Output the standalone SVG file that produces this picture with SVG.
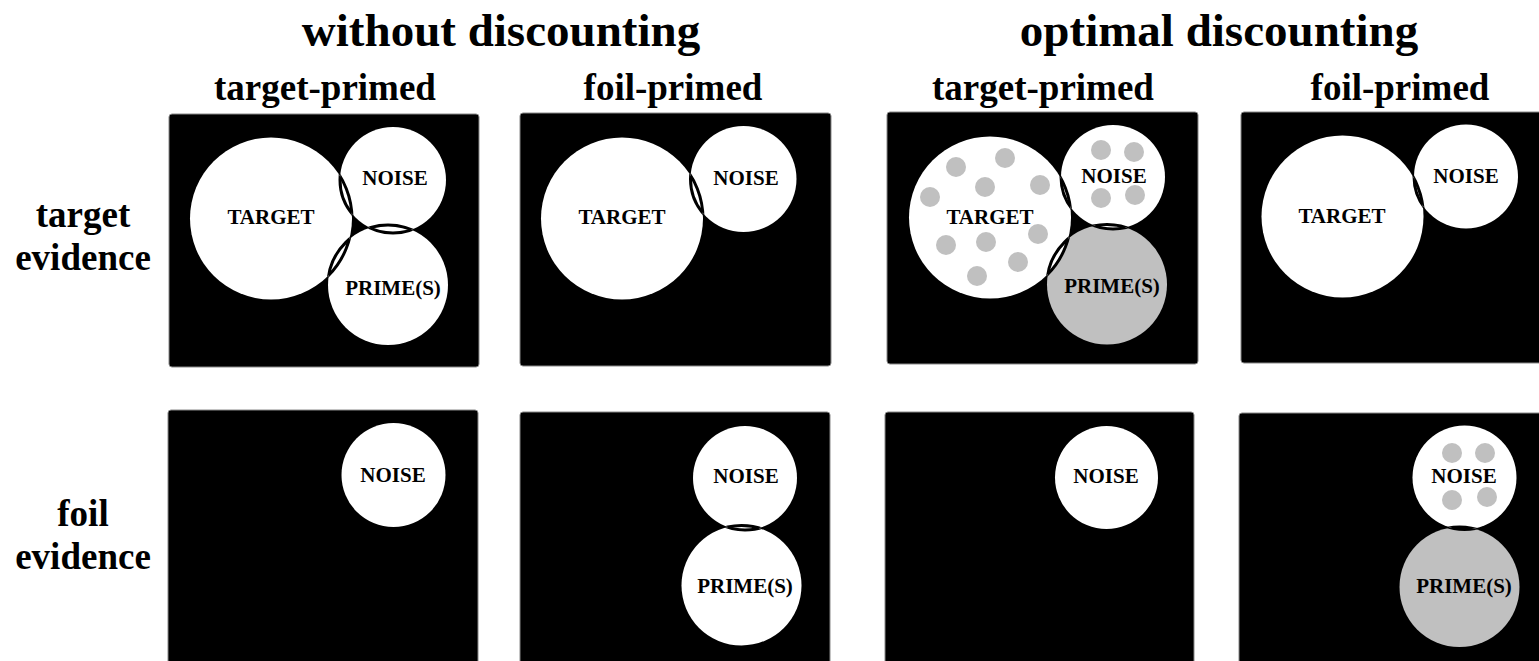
<svg xmlns="http://www.w3.org/2000/svg" width="1539" height="661" viewBox="0 0 1539 661">
<style>
.panel{fill:#000;stroke:#888;stroke-width:1}
.w{fill:#fff}
.g{fill:#c0c0c0}
.lens{fill:none;stroke:#000;stroke-width:3}
.lbl{font-family:"Liberation Serif","Times New Roman",serif;font-weight:bold;font-size:21px;text-anchor:middle;fill:#000}
.h1{font-family:"Liberation Serif","Times New Roman",serif;font-weight:bold;font-size:47px;text-anchor:middle;fill:#000}
.h2{font-family:"Liberation Serif","Times New Roman",serif;font-weight:bold;font-size:37px;text-anchor:middle;fill:#000}
</style>
<defs>
<clipPath id="c1T"><circle cx="271" cy="218.5" r="81"/></clipPath>
<clipPath id="c1N"><circle cx="393" cy="180" r="53"/></clipPath>
<clipPath id="c1P"><circle cx="388" cy="285" r="60"/></clipPath>
<clipPath id="c2T"><circle cx="622" cy="218.5" r="81"/></clipPath>
<clipPath id="c2N"><circle cx="743.5" cy="179" r="53"/></clipPath>
<clipPath id="c3T"><circle cx="990" cy="217.5" r="81"/></clipPath>
<clipPath id="c3N"><circle cx="1113" cy="177" r="52"/></clipPath>
<clipPath id="c3P"><circle cx="1107" cy="284.5" r="60"/></clipPath>
<clipPath id="c4T"><circle cx="1342.5" cy="216.5" r="81"/></clipPath>
<clipPath id="c4N"><circle cx="1466" cy="176.5" r="52"/></clipPath>
<clipPath id="c6N"><circle cx="745" cy="478" r="52"/></clipPath>
<clipPath id="c6P"><circle cx="741.5" cy="585.5" r="60"/></clipPath>
<clipPath id="c8N"><circle cx="1464.5" cy="477.5" r="52"/></clipPath>
<clipPath id="c8P"><circle cx="1459.5" cy="587" r="60"/></clipPath>
</defs>
<rect width="1539" height="661" fill="#fff"/>

<g id="headers">
<text class="h1" x="501" y="46">without discounting</text>
<text class="h1" x="1219" y="46">optimal discounting</text>
<text class="h2" x="325" y="100">target-primed</text>
<text class="h2" x="673" y="100">foil-primed</text>
<text class="h2" x="1043" y="100">target-primed</text>
<text class="h2" x="1400" y="100">foil-primed</text>
<text class="h2" x="83" y="227">target</text>
<text class="h2" x="83" y="270">evidence</text>
<text class="h2" x="83" y="526">foil</text>
<text class="h2" x="83" y="569">evidence</text>
</g>

<g id="panel-1">
<rect class="panel" x="169" y="114" width="310" height="253" rx="3"/>
<circle class="w" cx="271" cy="218.5" r="81"/>
<circle class="w" cx="393" cy="180" r="53"/>
<circle class="w" cx="388" cy="285" r="60"/>
<circle class="lens" cx="271" cy="218.5" r="81" clip-path="url(#c1N)"/>
<circle class="lens" cx="393" cy="180" r="53" clip-path="url(#c1T)"/>
<circle class="lens" cx="271" cy="218.5" r="81" clip-path="url(#c1P)"/>
<circle class="lens" cx="388" cy="285" r="60" clip-path="url(#c1T)"/>
<circle class="lens" cx="393" cy="180" r="53" clip-path="url(#c1P)"/>
<circle class="lens" cx="388" cy="285" r="60" clip-path="url(#c1N)"/>
<text class="lbl" x="271" y="224">TARGET</text>
<text class="lbl" x="395" y="185">NOISE</text>
<text class="lbl" x="393" y="295">PRIME(S)</text>
</g>

<g id="panel-2">
<rect class="panel" x="520" y="113" width="311" height="253" rx="3"/>
<circle class="w" cx="622" cy="218.5" r="81"/>
<circle class="w" cx="743.5" cy="179" r="53"/>
<circle class="lens" cx="622" cy="218.5" r="81" clip-path="url(#c2N)"/>
<circle class="lens" cx="743.5" cy="179" r="53" clip-path="url(#c2T)"/>
<text class="lbl" x="622" y="224">TARGET</text>
<text class="lbl" x="746" y="185">NOISE</text>
</g>

<g id="panel-3">
<rect class="panel" x="887" y="112" width="311" height="252" rx="3"/>
<circle class="g" cx="1107" cy="284.5" r="60"/>
<circle class="w" cx="990" cy="217.5" r="81"/>
<circle class="w" cx="1113" cy="177" r="52"/>
<g class="g">
<circle cx="956" cy="167" r="10"/>
<circle cx="1005" cy="158" r="10"/>
<circle cx="985" cy="187" r="10"/>
<circle cx="1040" cy="185" r="10"/>
<circle cx="930" cy="197" r="10"/>
<circle cx="1038" cy="234" r="10"/>
<circle cx="946" cy="245" r="10"/>
<circle cx="986" cy="242" r="10"/>
<circle cx="1018" cy="262" r="10"/>
<circle cx="977" cy="276" r="10"/>
<circle cx="1101" cy="150" r="10"/>
<circle cx="1134" cy="152" r="10"/>
<circle cx="1101" cy="198" r="10"/>
<circle cx="1135" cy="195" r="10"/>
</g>
<circle class="w" cx="1107" cy="284.5" r="60" clip-path="url(#c3T)"/>
<circle class="w" cx="1107" cy="284.5" r="60" clip-path="url(#c3N)"/>
<circle class="lens" cx="990" cy="217.5" r="81" clip-path="url(#c3N)"/>
<circle class="lens" cx="1113" cy="177" r="52" clip-path="url(#c3T)"/>
<circle class="lens" cx="990" cy="217.5" r="81" clip-path="url(#c3P)"/>
<circle class="lens" cx="1107" cy="284.5" r="60" clip-path="url(#c3T)"/>
<circle class="lens" cx="1113" cy="177" r="52" clip-path="url(#c3P)"/>
<circle class="lens" cx="1107" cy="284.5" r="60" clip-path="url(#c3N)"/>
<text class="lbl" x="990" y="224">TARGET</text>
<text class="lbl" x="1114" y="183">NOISE</text>
<text class="lbl" x="1112" y="293">PRIME(S)</text>
</g>

<g id="panel-4">
<rect class="panel" x="1241" y="112" width="310" height="251" rx="3"/>
<circle class="w" cx="1342.5" cy="216.5" r="81"/>
<circle class="w" cx="1466" cy="176.5" r="52"/>
<circle class="lens" cx="1342.5" cy="216.5" r="81" clip-path="url(#c4N)"/>
<circle class="lens" cx="1466" cy="176.5" r="52" clip-path="url(#c4T)"/>
<text class="lbl" x="1342" y="223">TARGET</text>
<text class="lbl" x="1466" y="183">NOISE</text>
</g>

<g id="panel-5">
<rect class="panel" x="168" y="410" width="310" height="270" rx="3"/>
<circle class="w" cx="393.5" cy="475" r="52"/>
<text class="lbl" x="393" y="482">NOISE</text>
</g>

<g id="panel-6">
<rect class="panel" x="520" y="412" width="310" height="270" rx="3"/>
<circle class="w" cx="745" cy="478" r="52"/>
<circle class="w" cx="741.5" cy="585.5" r="60"/>
<circle class="lens" cx="745" cy="478" r="52" clip-path="url(#c6P)"/>
<circle class="lens" cx="741.5" cy="585.5" r="60" clip-path="url(#c6N)"/>
<text class="lbl" x="746" y="483">NOISE</text>
<text class="lbl" x="745" y="593">PRIME(S)</text>
</g>

<g id="panel-7">
<rect class="panel" x="885" y="412" width="309" height="270" rx="3"/>
<circle class="w" cx="1106.5" cy="477.5" r="51.5"/>
<text class="lbl" x="1106" y="483">NOISE</text>
</g>

<g id="panel-8">
<rect class="panel" x="1239" y="413" width="312" height="270" rx="3"/>
<circle class="g" cx="1459.5" cy="587" r="60"/>
<circle class="w" cx="1464.5" cy="477.5" r="52"/>
<g class="g">
<circle cx="1452" cy="453" r="10"/>
<circle cx="1485" cy="453" r="10"/>
<circle cx="1452" cy="500" r="10"/>
<circle cx="1487" cy="497" r="10"/>
</g>
<circle class="lens" cx="1464.5" cy="477.5" r="52" clip-path="url(#c8P)"/>
<circle class="lens" cx="1459.5" cy="587" r="60" clip-path="url(#c8N)"/>
<text class="lbl" x="1464" y="483">NOISE</text>
<text class="lbl" x="1464" y="593">PRIME(S)</text>
</g>
</svg>
